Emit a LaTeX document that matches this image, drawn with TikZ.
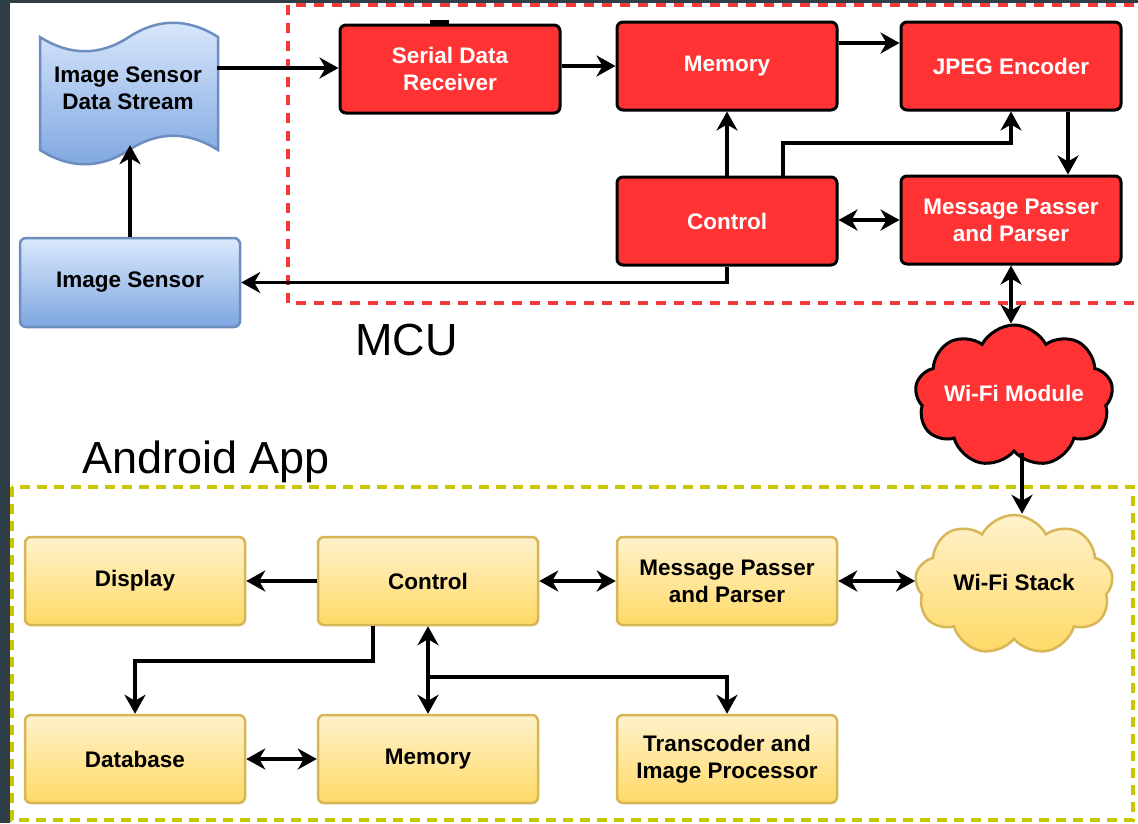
\documentclass[tikz,border=0pt]{standalone}
\usepackage{fontspec}
\setmainfont{Liberation Sans}
\usetikzlibrary{arrows.meta,shapes.symbols,shadings}
\definecolor{bgdark}{HTML}{2F3D46}
\definecolor{myred}{HTML}{FF3333}
\definecolor{dashred}{HTML}{F23A3A}
\definecolor{dashgreen}{HTML}{C8C800}
\definecolor{ylTop}{HTML}{FFF2CC}
\definecolor{ylBot}{HTML}{FFD966}
\definecolor{ylBorder}{HTML}{D6B656}
\definecolor{blTop}{HTML}{DAE8FC}
\definecolor{blBot}{HTML}{7EA6E0}
\definecolor{blBorder}{HTML}{6C8EBF}
\begin{document}
\begin{tikzpicture}[x=1pt,y=-1pt,
  boxfont/.style={font=\fontsize{22.5}{27}\selectfont\bfseries},
  redbox/.style={boxfont, draw=black, line width=3pt, fill=myred, text=white, rounded corners=6pt,
    minimum width=220pt, minimum height=88pt, align=center, inner sep=2pt},
  ylbox/.style={boxfont, draw=ylBorder, line width=2.5pt, top color=ylTop, bottom color=ylBot, text=black,
    rounded corners=6pt, minimum width=220pt, minimum height=88pt, align=center, inner sep=2pt},
  blbox/.style={boxfont, draw=blBorder, line width=2.5pt, top color=blTop, bottom color=blBot, text=black,
    rounded corners=6pt, minimum width=220pt, minimum height=89pt, align=center, inner sep=2pt},
  redcloud/.style={boxfont, cloud, cloud puffs=9, cloud puff arc=125, cloud ignores aspect,
    draw=black, line width=3pt, fill=myred, text=white, minimum width=198pt, minimum height=142pt, inner sep=0pt},
  ylcloud/.style={boxfont, cloud, cloud puffs=9, cloud puff arc=125, cloud ignores aspect,
    draw=ylBorder, line width=2.5pt, top color=ylTop, bottom color=ylBot, text=black,
    minimum width=198pt, minimum height=140pt, inner sep=0pt},
  tip/.tip={Stealth[length=19pt,width=21pt,inset=6pt]},
  arr/.style={line width=3.6pt, -tip},
  darr/.style={line width=3.6pt, tip-tip},
  reddash/.style={draw=dashred, line width=3.8pt, dash pattern=on 10pt off 8pt},
  grndash/.style={draw=dashgreen, line width=3.8pt, dash pattern=on 10pt off 7pt},
  biglabel/.style={font=\fontsize{45}{50}\selectfont, anchor=base west, inner sep=0pt}
]
\useasboundingbox (0,0) rectangle (1138,823);
\clip (0,0) rectangle (1138,823);
% background
\fill[bgdark] (0,0) rectangle (1138,823);
\fill[white] (10,3) rectangle (1138,823);

% group frames
\draw[reddash] (288,5) rectangle (1160,303);
\draw[grndash] (12,487) rectangle (1133,820);
\node[biglabel] (mcu) at (355,355) {MCU};
\node[biglabel] (android) at (82,473) {Android App};

% tape shape (Image Sensor Data Stream)
\path[draw=blBorder, line width=2.5pt, top color=blTop, bottom color=blBot]
  (40,37) .. controls (70,56) and (100,56) .. (129,37)
  .. controls (158,18) and (188,18) .. (218,37)
  -- (218,150) .. controls (188,131) and (158,131) .. (129,150)
  .. controls (100,169) and (70,169) .. (40,150) -- cycle;
\node[boxfont, align=center, minimum width=178pt, minimum height=113pt, inner sep=0pt] (tape) at (128,88.5) {Image Sensor\\Data Stream};

% blue box
\node[blbox] (isens) at (130,282.5) {Image Sensor};

% MCU blocks
\node[redbox] (sdr) at (450,69) {Serial Data\\Receiver};
\fill[black] (430,20) rectangle (449,25);
\node[redbox] (mem) at (727,66) {Memory};
\node[redbox] (jpeg) at (1011,66) {JPEG Encoder};
\node[redbox] (ctrl) at (727,221) {Control};
\node[redbox] (msg) at (1011,220) {Message Passer\\and Parser};
\node[redcloud] (wifim) at (1014,396) {\raisebox{5pt}{Wi-Fi Module}};

% Android blocks
\node[ylbox] (disp) at (135,581) {Display};
\node[ylbox] (actl) at (428,581) {Control};
\node[ylbox] (amsg) at (727,581) {Message Passer\\and Parser};
\node[ylbox] (db) at (135,759) {Database};
\node[ylbox] (amem) at (428,759) {Memory};
\node[ylbox] (trans) at (727,759) {Transcoder and\\Image Processor};
\node[ylcloud] (wifis) at (1014,585) {\raisebox{5pt}{Wi-Fi Stack}};

% MCU connectors
\draw[arr] (isens.north) -- (isens.north |- tape.south);
\draw[arr] (tape.east |- 0,68) -- (sdr.west |- 0,68);
\draw[arr] (sdr.east |- mem.west) -- (mem.west);
\draw[arr] ([yshift=23pt]mem.east) -- ([yshift=23pt]jpeg.west);
\draw[arr] (ctrl.north) -- (mem.south);
\draw[arr] ([xshift=56pt]ctrl.north) -- ([xshift=56pt]ctrl.north |- 0,143) -| (jpeg.south);
\draw[arr] ([xshift=57pt]jpeg.south) -- ([xshift=57pt]msg.north);
\draw[darr] (ctrl.east |- msg.west) -- (msg.west);
\draw[darr] (msg.south) -- (msg.south |- wifim.north);
\draw[arr] (ctrl.south) |- (isens.east);
\draw[arr] (wifim.south -| 1022,0) -- (1022,0 |- wifis.north);

% Android connectors
\draw[arr] (actl.west) -- (disp.east);
\draw[darr] (actl.east) -- (amsg.west);
\draw[darr] (amsg.east) -- (wifis.west |- amsg.east);
\draw[arr] ([xshift=-55pt]actl.south) -- ([xshift=-55pt]actl.south |- 0,661) -| (db.north);
\draw[darr] (actl.south) -- (amem.north);
\draw[arr] (actl.south |- 0,677) -| (trans.north);
\draw[darr] (db.east) -- (amem.west);
\end{tikzpicture}
\end{document}
